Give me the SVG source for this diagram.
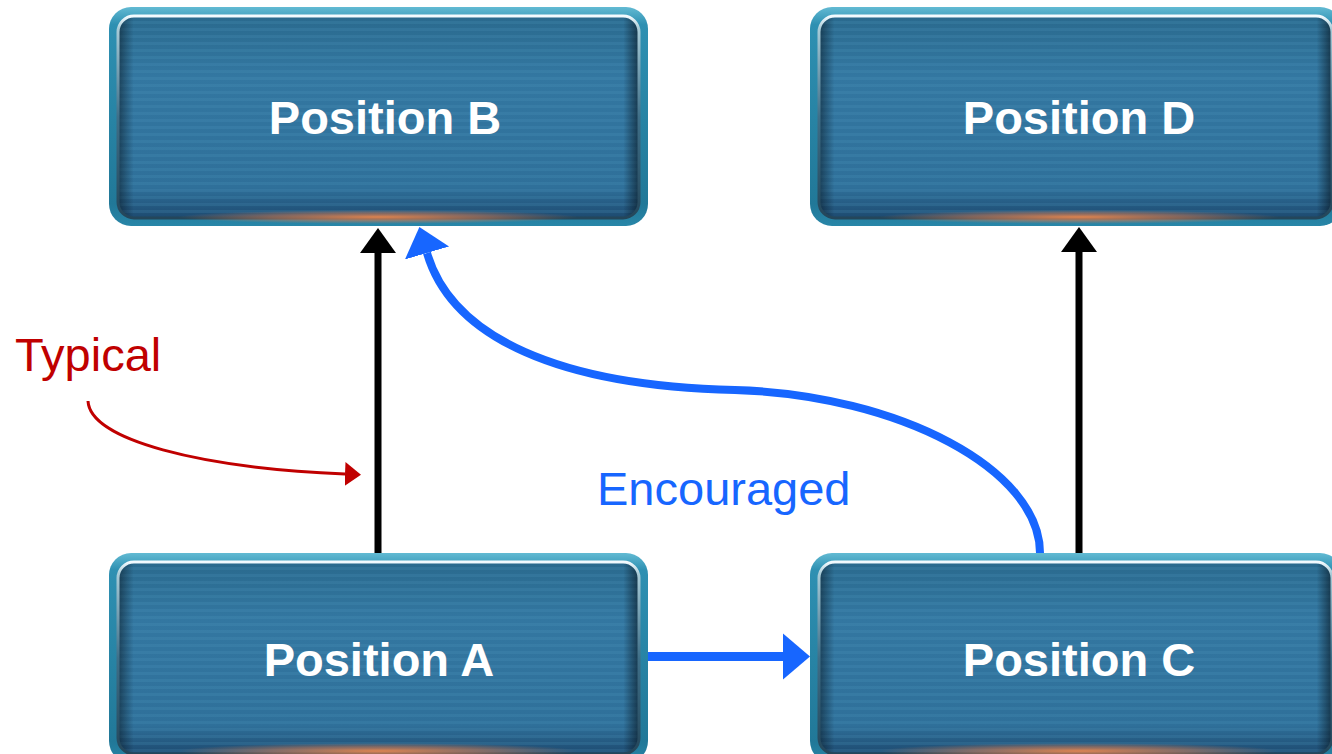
<svg xmlns="http://www.w3.org/2000/svg" width="1332" height="754" viewBox="0 0 1332 754">
  <style>
    .frame { fill: url(#frameGrad); }
    .panel { fill: url(#panelGrad); }
    .stripes { fill: url(#stripePat); }
    .vignette { fill: url(#sideShade); }
    .rim { fill: none; stroke: url(#rimGrad); stroke-width: 3; }
    .glow { fill: url(#glowGrad); }
    .label { font-family: "Liberation Sans", Arial, sans-serif; font-weight: bold; font-size: 47px; fill: #ffffff; text-anchor: middle; }
    .note { font-family: "Liberation Sans", Arial, sans-serif; font-size: 47px; }
    .black { fill: none; stroke: #000000; stroke-width: 7; }
    .blue { fill: none; stroke: #1766ff; stroke-width: 9; }
    .blue-curve { fill: none; stroke: #1766ff; stroke-width: 8; }
    .red { fill: none; stroke: #c00000; stroke-width: 3; }
  </style>
  <defs>
    <linearGradient id="frameGrad" x1="0" y1="0" x2="0" y2="1">
      <stop offset="0" stop-color="#62bad3"/>
      <stop offset="0.08" stop-color="#2e90b2"/>
      <stop offset="0.9" stop-color="#217898"/>
      <stop offset="1" stop-color="#2886a8"/>
    </linearGradient>
    <linearGradient id="panelGrad" x1="0" y1="0" x2="0" y2="1">
      <stop offset="0" stop-color="#2a6a8e"/>
      <stop offset="0.3" stop-color="#3377a1"/>
      <stop offset="0.85" stop-color="#2f709a"/>
      <stop offset="1" stop-color="#1d4a70"/>
    </linearGradient>
    <linearGradient id="sideShade" x1="0" y1="0" x2="1" y2="0">
      <stop offset="0" stop-color="#06131d" stop-opacity="0.55"/>
      <stop offset="0.03" stop-color="#06131d" stop-opacity="0"/>
      <stop offset="0.97" stop-color="#06131d" stop-opacity="0"/>
      <stop offset="1" stop-color="#06131d" stop-opacity="0.65"/>
    </linearGradient>
    <linearGradient id="rimGrad" x1="0" y1="0" x2="0" y2="1">
      <stop offset="0" stop-color="#f4fbff"/>
      <stop offset="0.06" stop-color="#a9ccd8"/>
      <stop offset="0.5" stop-color="#3f6f88"/>
      <stop offset="1" stop-color="#24465a"/>
    </linearGradient>
    <radialGradient id="glowGrad" cx="0.5" cy="0.5" r="0.5">
      <stop offset="0" stop-color="#e8874e" stop-opacity="0.95"/>
      <stop offset="0.55" stop-color="#c97a55" stop-opacity="0.55"/>
      <stop offset="1" stop-color="#c97a55" stop-opacity="0"/>
    </radialGradient>
    <pattern id="stripePat" x="0" y="0" width="8" height="7" patternUnits="userSpaceOnUse">
      <rect x="0" y="0" width="8" height="3" fill="#5aa0c8" fill-opacity="0.16"/>
    </pattern>
    <marker id="headBlack" markerUnits="userSpaceOnUse" markerWidth="30" markerHeight="40" refX="0" refY="0" viewBox="0 -20 30 40" orient="auto">
      <path d="M0,-18 L25,0 L0,18 Z" fill="#000000"/>
    </marker>
    <marker id="headBlue" markerUnits="userSpaceOnUse" markerWidth="30" markerHeight="50" refX="0" refY="0" viewBox="0 -25 30 50" orient="auto">
      <path d="M0,-23 L27,0 L0,23 Z" fill="#1766ff"/>
    </marker>
    <marker id="headRed" markerUnits="userSpaceOnUse" markerWidth="20" markerHeight="30" refX="0" refY="0" viewBox="0 -15 20 30" orient="auto">
      <path d="M0,-12 L16,0 L0,12 Z" fill="#c00000"/>
    </marker>
  </defs>

  <rect x="0" y="0" width="1332" height="754" fill="#ffffff"/>

  <!-- connectors -->
  <g id="connectors">
    <path class="black" d="M378,553 L378,253" marker-end="url(#headBlack)"/>
    <path class="black" d="M1079,553 L1079,252" marker-end="url(#headBlack)"/>
    <path class="blue" d="M648,656.5 L783,656.5" marker-end="url(#headBlue)"/>
    <path class="blue-curve" d="M1040,553 C1040,470 900,395 735,390 C560,386 452,338 427,253" marker-end="url(#headBlue)"/>
    <path class="red" d="M88,401 C90,440 200,468 345,474" marker-end="url(#headRed)"/>
  </g>

  <!-- nodes -->
  <g id="node-b">
    <rect class="frame" x="109" y="7" width="539" height="219" rx="22"/>
    <rect class="panel" x="118" y="16" width="521" height="202" rx="16"/>
    <rect class="stripes" x="118" y="16" width="521" height="202" rx="16"/>
    <rect class="vignette" x="118" y="16" width="521" height="202" rx="16"/>
    <rect class="rim" x="118" y="16" width="521" height="202" rx="16"/>
    <ellipse class="glow" cx="378" cy="217" rx="200" ry="7"/>
    <text class="label" x="385" y="134">Position B</text>
  </g>

  <g id="node-d">
    <rect class="frame" x="810" y="7" width="532" height="219" rx="22"/>
    <rect class="panel" x="819" y="16" width="513" height="202" rx="16"/>
    <rect class="stripes" x="819" y="16" width="513" height="202" rx="16"/>
    <rect class="vignette" x="819" y="16" width="513" height="202" rx="16"/>
    <rect class="rim" x="819" y="16" width="513" height="202" rx="16"/>
    <ellipse class="glow" cx="1079" cy="217" rx="200" ry="7"/>
    <text class="label" x="1079" y="134">Position D</text>
  </g>

  <g id="node-a">
    <rect class="frame" x="109" y="553" width="539" height="210" rx="22"/>
    <rect class="panel" x="118" y="562" width="521" height="192" rx="16"/>
    <rect class="stripes" x="118" y="562" width="521" height="192" rx="16"/>
    <rect class="vignette" x="118" y="562" width="521" height="192" rx="16"/>
    <rect class="rim" x="118" y="562" width="521" height="192" rx="16"/>
    <ellipse class="glow" cx="378" cy="751" rx="200" ry="8"/>
    <text class="label" x="379" y="676">Position A</text>
  </g>

  <g id="node-c">
    <rect class="frame" x="810" y="553" width="532" height="210" rx="22"/>
    <rect class="panel" x="819" y="562" width="513" height="192" rx="16"/>
    <rect class="stripes" x="819" y="562" width="513" height="192" rx="16"/>
    <rect class="vignette" x="819" y="562" width="513" height="192" rx="16"/>
    <rect class="rim" x="819" y="562" width="513" height="192" rx="16"/>
    <ellipse class="glow" cx="1079" cy="751" rx="200" ry="8"/>
    <text class="label" x="1079" y="676">Position C</text>
  </g>

  <!-- annotations -->
  <text class="note" x="15" y="371" fill="#c00000">Typical</text>
  <text class="note" x="597" y="505" fill="#1766ff">Encouraged</text>
</svg>
